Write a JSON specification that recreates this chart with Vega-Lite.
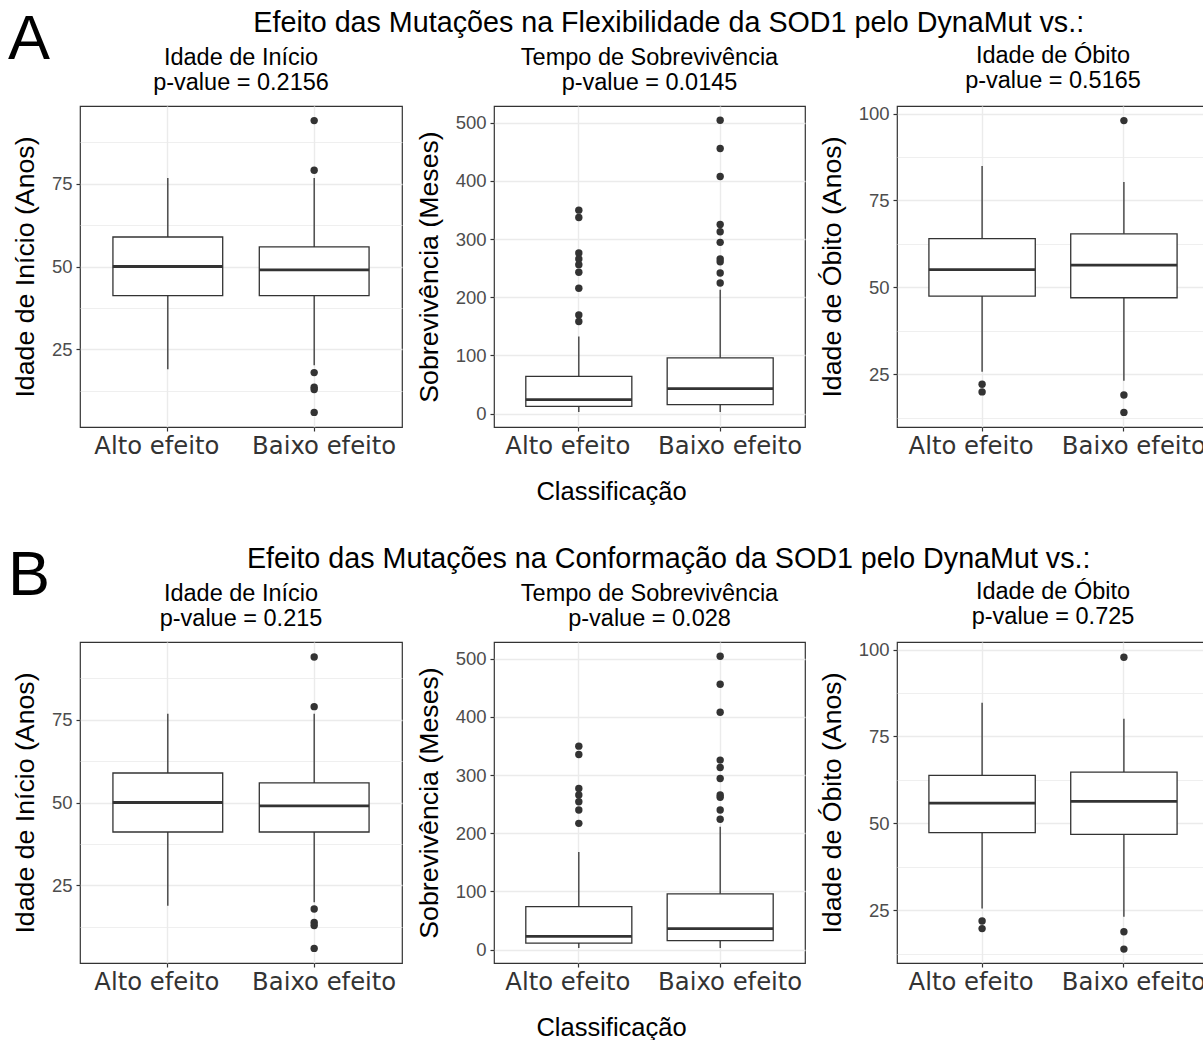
{
  "$schema": "https://vega.github.io/schema/vega-lite/v6.json",
  "background": "white",
  "padding": {"left": 8, "top": 8, "right": 0, "bottom": 0},
  "config": {
    "view": {"stroke": "#333333", "strokeWidth": 1.2},
    "font": "Liberation Sans",
    "title": {"font": "Liberation Sans", "fontWeight": "normal", "color": "black"},
    "axisY": {"domain": false, "tickColor": "#333333", "tickSize": 4, "tickWidth": 1.2, "labelColor": "#4D4D4D", "labelFontSize": 18.5, "labelFont": "Liberation Sans", "labelPadding": 4, "titleFont": "Liberation Sans", "titleFontSize": 26.7, "titleFontWeight": "normal", "titleColor": "black", "titlePadding": 12, "grid": true, "gridColor": "#EBEBEB", "format": "d"},
    "axisX": {"domain": false, "tickColor": "#333333", "tickSize": 4, "tickWidth": 1.2, "bandPosition": 0.5, "grid": true, "gridColor": "#EBEBEB", "gridWidth": 1.4, "labelFont": "DejaVu Sans", "labelFontSize": 24.3, "labelColor": "#333333", "labelAngle": 0, "labelPadding": 3, "labelOffset": {"condition": {"test": "datum.value === 'Alto efeito'", "value": -11}, "value": 10}, "titleFont": "Liberation Sans", "titleFontSize": 25.5, "titleFontWeight": "normal", "titleColor": "black", "titlePadding": 21}
  },
  "datasets": {
    "boxes": [
      {"panel": "A1", "cat": "Alto efeito", "lo": 19, "q1": 41.2, "med": 50, "q3": 58.9, "hi": 76.7},
      {"panel": "A1", "cat": "Baixo efeito", "lo": 20.2, "q1": 41.2, "med": 49, "q3": 55.9, "hi": 76.7},
      {"panel": "A2", "cat": "Alto efeito", "lo": 3, "q1": 12.6, "med": 24, "q3": 64, "hi": 132.6},
      {"panel": "A2", "cat": "Baixo efeito", "lo": 3, "q1": 15.4, "med": 42.9, "q3": 96, "hi": 213},
      {"panel": "A3", "cat": "Alto efeito", "lo": 25.7, "q1": 47.5, "med": 55.1, "q3": 64, "hi": 84.9},
      {"panel": "A3", "cat": "Baixo efeito", "lo": 23.1, "q1": 47, "med": 56.4, "q3": 65.4, "hi": 80.3},
      {"panel": "B1", "cat": "Alto efeito", "lo": 18.9, "q1": 41.1, "med": 50, "q3": 58.9, "hi": 76.8},
      {"panel": "B1", "cat": "Baixo efeito", "lo": 19.9, "q1": 41.1, "med": 49, "q3": 55.9, "hi": 76.8},
      {"panel": "B2", "cat": "Alto efeito", "lo": 3, "q1": 11.4, "med": 23, "q3": 74, "hi": 168},
      {"panel": "B2", "cat": "Baixo efeito", "lo": 3, "q1": 15.4, "med": 36, "q3": 96, "hi": 211},
      {"panel": "B3", "cat": "Alto efeito", "lo": 25.5, "q1": 47.3, "med": 55.8, "q3": 63.8, "hi": 84.7},
      {"panel": "B3", "cat": "Baixo efeito", "lo": 23.1, "q1": 46.8, "med": 56.3, "q3": 64.75, "hi": 80.1}
    ],
    "outliers": [
      {"panel": "A1", "cat": "Baixo efeito", "value": 94},
      {"panel": "A1", "cat": "Baixo efeito", "value": 79},
      {"panel": "A1", "cat": "Baixo efeito", "value": 18},
      {"panel": "A1", "cat": "Baixo efeito", "value": 13.6},
      {"panel": "A1", "cat": "Baixo efeito", "value": 12.9},
      {"panel": "A1", "cat": "Baixo efeito", "value": 6},
      {"panel": "A2", "cat": "Alto efeito", "value": 349.7},
      {"panel": "A2", "cat": "Alto efeito", "value": 337},
      {"panel": "A2", "cat": "Alto efeito", "value": 276},
      {"panel": "A2", "cat": "Alto efeito", "value": 265.7},
      {"panel": "A2", "cat": "Alto efeito", "value": 256},
      {"panel": "A2", "cat": "Alto efeito", "value": 243},
      {"panel": "A2", "cat": "Alto efeito", "value": 215.5},
      {"panel": "A2", "cat": "Alto efeito", "value": 169.7},
      {"panel": "A2", "cat": "Alto efeito", "value": 158.3},
      {"panel": "A2", "cat": "Baixo efeito", "value": 504},
      {"panel": "A2", "cat": "Baixo efeito", "value": 455.5},
      {"panel": "A2", "cat": "Baixo efeito", "value": 407.5},
      {"panel": "A2", "cat": "Baixo efeito", "value": 325},
      {"panel": "A2", "cat": "Baixo efeito", "value": 312.6},
      {"panel": "A2", "cat": "Baixo efeito", "value": 294.3},
      {"panel": "A2", "cat": "Baixo efeito", "value": 266},
      {"panel": "A2", "cat": "Baixo efeito", "value": 261},
      {"panel": "A2", "cat": "Baixo efeito", "value": 241.7},
      {"panel": "A2", "cat": "Baixo efeito", "value": 224.6},
      {"panel": "A3", "cat": "Alto efeito", "value": 22.1},
      {"panel": "A3", "cat": "Alto efeito", "value": 19.9},
      {"panel": "A3", "cat": "Baixo efeito", "value": 98},
      {"panel": "A3", "cat": "Baixo efeito", "value": 19},
      {"panel": "A3", "cat": "Baixo efeito", "value": 14},
      {"panel": "B1", "cat": "Baixo efeito", "value": 93.9},
      {"panel": "B1", "cat": "Baixo efeito", "value": 78.9},
      {"panel": "B1", "cat": "Baixo efeito", "value": 17.9},
      {"panel": "B1", "cat": "Baixo efeito", "value": 13.8},
      {"panel": "B1", "cat": "Baixo efeito", "value": 12.9},
      {"panel": "B1", "cat": "Baixo efeito", "value": 6},
      {"panel": "B2", "cat": "Alto efeito", "value": 349.7},
      {"panel": "B2", "cat": "Alto efeito", "value": 335.4},
      {"panel": "B2", "cat": "Alto efeito", "value": 277},
      {"panel": "B2", "cat": "Alto efeito", "value": 265.7},
      {"panel": "B2", "cat": "Alto efeito", "value": 254},
      {"panel": "B2", "cat": "Alto efeito", "value": 240},
      {"panel": "B2", "cat": "Alto efeito", "value": 217},
      {"panel": "B2", "cat": "Baixo efeito", "value": 504},
      {"panel": "B2", "cat": "Baixo efeito", "value": 456},
      {"panel": "B2", "cat": "Baixo efeito", "value": 408},
      {"panel": "B2", "cat": "Baixo efeito", "value": 325.7},
      {"panel": "B2", "cat": "Baixo efeito", "value": 313},
      {"panel": "B2", "cat": "Baixo efeito", "value": 294},
      {"panel": "B2", "cat": "Baixo efeito", "value": 265.7},
      {"panel": "B2", "cat": "Baixo efeito", "value": 262},
      {"panel": "B2", "cat": "Baixo efeito", "value": 240},
      {"panel": "B2", "cat": "Baixo efeito", "value": 224},
      {"panel": "B3", "cat": "Alto efeito", "value": 21.9},
      {"panel": "B3", "cat": "Alto efeito", "value": 19.7},
      {"panel": "B3", "cat": "Baixo efeito", "value": 97.8},
      {"panel": "B3", "cat": "Baixo efeito", "value": 18.8},
      {"panel": "B3", "cat": "Baixo efeito", "value": 13.8}
    ]
  },
  "spacing": 38,
  "vconcat": [
    {
      "title": {"text": "A", "fontSize": 63, "anchor": "start", "frame": "group", "offset": -66, "dy": -3, "dx": -72},
      "vconcat": [
        {
          "title": {"text": "Efeito das Mutações na Flexibilidade da SOD1 pelo DynaMut vs.:", "fontSize": 28.7, "anchor": "middle", "offset": 6, "dx": 58},
          "spacing": 12,
          "hconcat": [
            {
              "width": 322, "height": 321,
              "title": {"text": ["Idade de Início", "p-value = 0.2156"], "fontSize": 23.5, "lineHeight": 25, "anchor": "middle", "offset": 12},
              "layer": [
                {"data": {"name": "boxes"}, "transform": [{"filter": "datum.panel === 'A1'"}],
                 "mark": {"type": "rule", "color": "#333333", "strokeWidth": 1.3},
                 "encoding": {
                   "x": {"field": "cat", "type": "nominal", "title": null, "scale": {"paddingInner": 0.25, "paddingOuter": 0.225}},
                   "y": {"field": "lo", "type": "quantitative", "title": "Idade de Início (Anos)", "scale": {"domain": [1.6, 98.4], "nice": false, "zero": false},
                         "axis": {"values": [12.5, 25, 37.5, 50, 62.5, 75, 87.5], "labelExpr": "datum.value % 25 === 0 ? datum.label : ''", "tickOpacity": {"condition": {"test": "datum.value % 25 !== 0", "value": 0}, "value": 1}, "gridWidth": {"condition": {"test": "datum.value % 25 !== 0", "value": 0.8}, "value": 1.4}}},
                   "y2": {"field": "hi"}}},
                {"data": {"name": "boxes"}, "transform": [{"filter": "datum.panel === 'A1'"}],
                 "mark": {"type": "bar", "fill": "white", "stroke": "#333333", "strokeWidth": 1.3},
                 "encoding": {"x": {"field": "cat", "type": "nominal", "title": null}, "y": {"field": "q1", "type": "quantitative", "title": "Idade de Início (Anos)"}, "y2": {"field": "q3"}}},
                {"data": {"name": "boxes"}, "transform": [{"filter": "datum.panel === 'A1'"}],
                 "mark": {"type": "tick", "color": "#333333", "thickness": 2.8, "size": 110, "opacity": 1},
                 "encoding": {"x": {"field": "cat", "type": "nominal", "title": null}, "y": {"field": "med", "type": "quantitative", "title": "Idade de Início (Anos)"}}},
                {"data": {"name": "outliers"}, "transform": [{"filter": "datum.panel === 'A1'"}],
                 "mark": {"type": "point", "filled": true, "color": "#333333", "size": 55, "opacity": 1},
                 "encoding": {"x": {"field": "cat", "type": "nominal", "title": null}, "y": {"field": "value", "type": "quantitative", "title": "Idade de Início (Anos)"}}}
              ]
            },
            {
              "width": 311, "height": 321,
              "title": {"text": ["Tempo de Sobrevivência", "p-value = 0.0145"], "fontSize": 23.5, "lineHeight": 25, "anchor": "middle", "offset": 12},
              "layer": [
                {"data": {"name": "boxes"}, "transform": [{"filter": "datum.panel === 'A2'"}],
                 "mark": {"type": "rule", "color": "#333333", "strokeWidth": 1.3},
                 "encoding": {
                   "x": {"field": "cat", "type": "nominal", "title": "Classificação", "scale": {"paddingInner": 0.25, "paddingOuter": 0.225}, "axis": {"titleX": 117}},
                   "y": {"field": "lo", "type": "quantitative", "title": "Sobrevivência (Meses)", "scale": {"domain": [-22.9, 528.6], "nice": false, "zero": false},
                         "axis": {"values": [0, 50, 100, 150, 200, 250, 300, 350, 400, 450, 500], "labelExpr": "datum.value % 100 === 0 ? datum.label : ''", "tickOpacity": {"condition": {"test": "datum.value % 100 !== 0", "value": 0}, "value": 1}, "gridWidth": {"condition": {"test": "datum.value % 100 !== 0", "value": 0.8}, "value": 1.4}}},
                   "y2": {"field": "hi"}}},
                {"data": {"name": "boxes"}, "transform": [{"filter": "datum.panel === 'A2'"}],
                 "mark": {"type": "bar", "fill": "white", "stroke": "#333333", "strokeWidth": 1.3},
                 "encoding": {"x": {"field": "cat", "type": "nominal", "title": "Classificação"}, "y": {"field": "q1", "type": "quantitative", "title": "Sobrevivência (Meses)"}, "y2": {"field": "q3"}}},
                {"data": {"name": "boxes"}, "transform": [{"filter": "datum.panel === 'A2'"}],
                 "mark": {"type": "tick", "color": "#333333", "thickness": 2.8, "size": 106, "opacity": 1},
                 "encoding": {"x": {"field": "cat", "type": "nominal", "title": "Classificação"}, "y": {"field": "med", "type": "quantitative", "title": "Sobrevivência (Meses)"}}},
                {"data": {"name": "outliers"}, "transform": [{"filter": "datum.panel === 'A2'"}],
                 "mark": {"type": "point", "filled": true, "color": "#333333", "size": 55, "opacity": 1},
                 "encoding": {"x": {"field": "cat", "type": "nominal", "title": "Classificação"}, "y": {"field": "value", "type": "quantitative", "title": "Sobrevivência (Meses)"}}}
              ]
            },
            {
              "width": 312, "height": 321,
              "title": {"text": ["Idade de Óbito", "p-value = 0.5165"], "fontSize": 23.5, "lineHeight": 25, "anchor": "middle", "offset": 12},
              "layer": [
                {"data": {"name": "boxes"}, "transform": [{"filter": "datum.panel === 'A3'"}],
                 "mark": {"type": "rule", "color": "#333333", "strokeWidth": 1.3},
                 "encoding": {
                   "x": {"field": "cat", "type": "nominal", "title": null, "scale": {"paddingInner": 0.25, "paddingOuter": 0.225}},
                   "y": {"field": "lo", "type": "quantitative", "title": "Idade de Óbito (Anos)", "scale": {"domain": [9.8, 102.2], "nice": false, "zero": false},
                         "axis": {"values": [12.5, 25, 37.5, 50, 62.5, 75, 87.5, 100], "labelExpr": "datum.value % 25 === 0 ? datum.label : ''", "tickOpacity": {"condition": {"test": "datum.value % 25 !== 0", "value": 0}, "value": 1}, "gridWidth": {"condition": {"test": "datum.value % 25 !== 0", "value": 0.8}, "value": 1.4}}},
                   "y2": {"field": "hi"}}},
                {"data": {"name": "boxes"}, "transform": [{"filter": "datum.panel === 'A3'"}],
                 "mark": {"type": "bar", "fill": "white", "stroke": "#333333", "strokeWidth": 1.3},
                 "encoding": {"x": {"field": "cat", "type": "nominal", "title": null}, "y": {"field": "q1", "type": "quantitative", "title": "Idade de Óbito (Anos)"}, "y2": {"field": "q3"}}},
                {"data": {"name": "boxes"}, "transform": [{"filter": "datum.panel === 'A3'"}],
                 "mark": {"type": "tick", "color": "#333333", "thickness": 2.8, "size": 106.4, "opacity": 1},
                 "encoding": {"x": {"field": "cat", "type": "nominal", "title": null}, "y": {"field": "med", "type": "quantitative", "title": "Idade de Óbito (Anos)"}}},
                {"data": {"name": "outliers"}, "transform": [{"filter": "datum.panel === 'A3'"}],
                 "mark": {"type": "point", "filled": true, "color": "#333333", "size": 55, "opacity": 1},
                 "encoding": {"x": {"field": "cat", "type": "nominal", "title": null}, "y": {"field": "value", "type": "quantitative", "title": "Idade de Óbito (Anos)"}}}
              ]
            }
          ]
        }
      ]
    },
    {
      "title": {"text": "B", "fontSize": 63, "anchor": "start", "frame": "group", "offset": -66, "dy": -3, "dx": -72},
      "vconcat": [
        {
          "title": {"text": "Efeito das Mutações na Conformação da SOD1 pelo DynaMut vs.:", "fontSize": 28.7, "anchor": "middle", "offset": 6, "dx": 58},
          "spacing": 12,
          "hconcat": [
            {
              "width": 322, "height": 321,
              "title": {"text": ["Idade de Início", "p-value = 0.215"], "fontSize": 23.5, "lineHeight": 25, "anchor": "middle", "offset": 12},
              "layer": [
                {"data": {"name": "boxes"}, "transform": [{"filter": "datum.panel === 'B1'"}],
                 "mark": {"type": "rule", "color": "#333333", "strokeWidth": 1.3},
                 "encoding": {
                   "x": {"field": "cat", "type": "nominal", "title": null, "scale": {"paddingInner": 0.25, "paddingOuter": 0.225}},
                   "y": {"field": "lo", "type": "quantitative", "title": "Idade de Início (Anos)", "scale": {"domain": [1.6, 98.4], "nice": false, "zero": false},
                         "axis": {"values": [12.5, 25, 37.5, 50, 62.5, 75, 87.5], "labelExpr": "datum.value % 25 === 0 ? datum.label : ''", "tickOpacity": {"condition": {"test": "datum.value % 25 !== 0", "value": 0}, "value": 1}, "gridWidth": {"condition": {"test": "datum.value % 25 !== 0", "value": 0.8}, "value": 1.4}}},
                   "y2": {"field": "hi"}}},
                {"data": {"name": "boxes"}, "transform": [{"filter": "datum.panel === 'B1'"}],
                 "mark": {"type": "bar", "fill": "white", "stroke": "#333333", "strokeWidth": 1.3},
                 "encoding": {"x": {"field": "cat", "type": "nominal", "title": null}, "y": {"field": "q1", "type": "quantitative", "title": "Idade de Início (Anos)"}, "y2": {"field": "q3"}}},
                {"data": {"name": "boxes"}, "transform": [{"filter": "datum.panel === 'B1'"}],
                 "mark": {"type": "tick", "color": "#333333", "thickness": 2.8, "size": 110, "opacity": 1},
                 "encoding": {"x": {"field": "cat", "type": "nominal", "title": null}, "y": {"field": "med", "type": "quantitative", "title": "Idade de Início (Anos)"}}},
                {"data": {"name": "outliers"}, "transform": [{"filter": "datum.panel === 'B1'"}],
                 "mark": {"type": "point", "filled": true, "color": "#333333", "size": 55, "opacity": 1},
                 "encoding": {"x": {"field": "cat", "type": "nominal", "title": null}, "y": {"field": "value", "type": "quantitative", "title": "Idade de Início (Anos)"}}}
              ]
            },
            {
              "width": 311, "height": 321,
              "title": {"text": ["Tempo de Sobrevivência", "p-value = 0.028"], "fontSize": 23.5, "lineHeight": 25, "anchor": "middle", "offset": 12},
              "layer": [
                {"data": {"name": "boxes"}, "transform": [{"filter": "datum.panel === 'B2'"}],
                 "mark": {"type": "rule", "color": "#333333", "strokeWidth": 1.3},
                 "encoding": {
                   "x": {"field": "cat", "type": "nominal", "title": "Classificação", "scale": {"paddingInner": 0.25, "paddingOuter": 0.225}, "axis": {"titleX": 117}},
                   "y": {"field": "lo", "type": "quantitative", "title": "Sobrevivência (Meses)", "scale": {"domain": [-22.9, 528.6], "nice": false, "zero": false},
                         "axis": {"values": [0, 50, 100, 150, 200, 250, 300, 350, 400, 450, 500], "labelExpr": "datum.value % 100 === 0 ? datum.label : ''", "tickOpacity": {"condition": {"test": "datum.value % 100 !== 0", "value": 0}, "value": 1}, "gridWidth": {"condition": {"test": "datum.value % 100 !== 0", "value": 0.8}, "value": 1.4}}},
                   "y2": {"field": "hi"}}},
                {"data": {"name": "boxes"}, "transform": [{"filter": "datum.panel === 'B2'"}],
                 "mark": {"type": "bar", "fill": "white", "stroke": "#333333", "strokeWidth": 1.3},
                 "encoding": {"x": {"field": "cat", "type": "nominal", "title": "Classificação"}, "y": {"field": "q1", "type": "quantitative", "title": "Sobrevivência (Meses)"}, "y2": {"field": "q3"}}},
                {"data": {"name": "boxes"}, "transform": [{"filter": "datum.panel === 'B2'"}],
                 "mark": {"type": "tick", "color": "#333333", "thickness": 2.8, "size": 106, "opacity": 1},
                 "encoding": {"x": {"field": "cat", "type": "nominal", "title": "Classificação"}, "y": {"field": "med", "type": "quantitative", "title": "Sobrevivência (Meses)"}}},
                {"data": {"name": "outliers"}, "transform": [{"filter": "datum.panel === 'B2'"}],
                 "mark": {"type": "point", "filled": true, "color": "#333333", "size": 55, "opacity": 1},
                 "encoding": {"x": {"field": "cat", "type": "nominal", "title": "Classificação"}, "y": {"field": "value", "type": "quantitative", "title": "Sobrevivência (Meses)"}}}
              ]
            },
            {
              "width": 312, "height": 321,
              "title": {"text": ["Idade de Óbito", "p-value = 0.725"], "fontSize": 23.5, "lineHeight": 25, "anchor": "middle", "offset": 12},
              "layer": [
                {"data": {"name": "boxes"}, "transform": [{"filter": "datum.panel === 'B3'"}],
                 "mark": {"type": "rule", "color": "#333333", "strokeWidth": 1.3},
                 "encoding": {
                   "x": {"field": "cat", "type": "nominal", "title": null, "scale": {"paddingInner": 0.25, "paddingOuter": 0.225}},
                   "y": {"field": "lo", "type": "quantitative", "title": "Idade de Óbito (Anos)", "scale": {"domain": [9.8, 102.2], "nice": false, "zero": false},
                         "axis": {"values": [12.5, 25, 37.5, 50, 62.5, 75, 87.5, 100], "labelExpr": "datum.value % 25 === 0 ? datum.label : ''", "tickOpacity": {"condition": {"test": "datum.value % 25 !== 0", "value": 0}, "value": 1}, "gridWidth": {"condition": {"test": "datum.value % 25 !== 0", "value": 0.8}, "value": 1.4}}},
                   "y2": {"field": "hi"}}},
                {"data": {"name": "boxes"}, "transform": [{"filter": "datum.panel === 'B3'"}],
                 "mark": {"type": "bar", "fill": "white", "stroke": "#333333", "strokeWidth": 1.3},
                 "encoding": {"x": {"field": "cat", "type": "nominal", "title": null}, "y": {"field": "q1", "type": "quantitative", "title": "Idade de Óbito (Anos)"}, "y2": {"field": "q3"}}},
                {"data": {"name": "boxes"}, "transform": [{"filter": "datum.panel === 'B3'"}],
                 "mark": {"type": "tick", "color": "#333333", "thickness": 2.8, "size": 106.4, "opacity": 1},
                 "encoding": {"x": {"field": "cat", "type": "nominal", "title": null}, "y": {"field": "med", "type": "quantitative", "title": "Idade de Óbito (Anos)"}}},
                {"data": {"name": "outliers"}, "transform": [{"filter": "datum.panel === 'B3'"}],
                 "mark": {"type": "point", "filled": true, "color": "#333333", "size": 55, "opacity": 1},
                 "encoding": {"x": {"field": "cat", "type": "nominal", "title": null}, "y": {"field": "value", "type": "quantitative", "title": "Idade de Óbito (Anos)"}}}
              ]
            }
          ]
        }
      ]
    }
  ]
}
